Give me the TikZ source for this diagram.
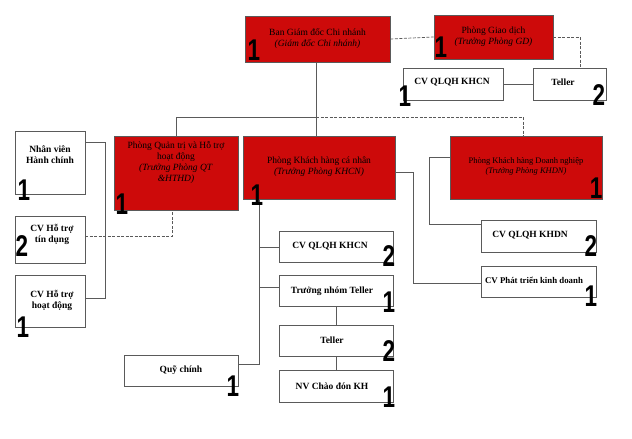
\documentclass[tikz,border=0pt]{standalone}
\usepackage{fontspec}
\setmainfont{Liberation Serif}
\newfontfamily\numfont{Liberation Sans}
\definecolor{boxred}{RGB}{205,10,10}
\definecolor{lin}{RGB}{90,90,90}
\begin{document}
\begin{tikzpicture}[x=1pt,y=-1pt,
 box/.style={draw=lin,line width=0.7pt,fill=white,inner sep=1pt,align=center,font=\fontsize{9.5}{11}\selectfont\bfseries},
 red/.style={box,fill=boxred,font=\fontsize{9.5}{11}\selectfont},
 num/.style={inner sep=0pt,font=\numfont\bfseries\fontsize{30}{30}\selectfont,xscale=0.75},
 ln/.style={draw=lin,line width=0.7pt},
 dl/.style={draw=lin,line width=0.7pt,dash pattern=on 3pt off 1.5pt}]
\useasboundingbox (0,0) rectangle (632,439);
\newcommand\bx[6]{\node[#1,minimum width=#4-#2,minimum height=#5-#3] (#6) at ({(#2+#4)/2},{(#3+#5)/2}) {};}
% red boxes
\bx{red}{245}{16}{390}{62}{bgd}
\node[font=\fontsize{9.5}{11}\selectfont,align=center] at (bgd) {Ban Giám đốc Chi nhánh\\\textit{(Giám đốc Chi nhánh)}};
\bx{red}{434}{15}{553}{59}{pgd}
\node[font=\fontsize{9.5}{11}\selectfont,align=center] at (pgd) {Phòng Giao dịch\\\textit{(Trưởng Phòng GD)}};
\bx{red}{114}{136}{238}{210}{pqt}
\node[font=\fontsize{9.5}{11}\selectfont,align=center] at (176,162) {Phòng Quản trị và Hỗ trợ\\hoạt động\\\textit{(Trưởng Phòng QT}\\\textit{\&HTHD)}};
\bx{red}{243}{136}{395}{199}{pkhcn}
\node[font=\fontsize{9.5}{11}\selectfont,align=center] at (319,167) {Phòng Khách hàng cá nhân\\\textit{(Trưởng Phòng KHCN)}};
\bx{red}{450}{136}{602}{199}{pkhdn}
\node[font=\fontsize{8.5}{10}\selectfont,align=center] at (526,166) {Phòng Khách hàng Doanh nghiệp\\\textit{(Trưởng Phòng KHDN)}};
% white boxes
\bx{box}{403}{68}{503}{100}{cvt}\node[font=\fontsize{9.5}{11}\selectfont\bfseries] at (452,82) {CV QLQH KHCN};
\bx{box}{533}{68}{606}{100}{tlt}\node[font=\fontsize{9.5}{11}\selectfont\bfseries] at (563,82) {Teller};
\bx{box}{15}{131}{85}{194}{nvhc}\node[font=\fontsize{9.5}{11}\selectfont\bfseries,align=center] at (50,155) {Nhân viên\\Hành chính};
\bx{box}{15}{216}{85}{263}{cvtd}\node[font=\fontsize{9.5}{11}\selectfont\bfseries,align=center] at (52,234) {CV Hỗ trợ\\tín dụng};
\bx{box}{15}{275}{85}{327}{cvhd}\node[font=\fontsize{9.5}{11}\selectfont\bfseries,align=center] at (52,300) {CV Hỗ trợ\\hoạt động};
\bx{box}{279}{231}{393}{262}{cvk}\node[font=\fontsize{9.5}{11}\selectfont\bfseries] at (330,246) {CV QLQH KHCN};
\bx{box}{279}{275}{393}{306}{tnt}\node[font=\fontsize{9.5}{11}\selectfont\bfseries] at (332,291) {Trưởng nhóm\ Teller};
\bx{box}{279}{325}{393}{356}{tl}\node[font=\fontsize{9.5}{11}\selectfont\bfseries] at (332,340) {Teller};
\bx{box}{279}{370}{393}{402}{nvc}\node[font=\fontsize{9.5}{11}\selectfont\bfseries] at (332,386) {NV Chào đón KH};
\bx{box}{124}{355}{238}{386}{qc}\node[font=\fontsize{9.5}{11}\selectfont\bfseries] at (181,370) {Quỹ chính};
\bx{box}{481}{220}{596}{252}{cvd}\node[font=\fontsize{9.5}{11}\selectfont\bfseries] at (530,235) {CV QLQH KHDN};
\bx{box}{481}{266}{596}{297}{cvp}\node[font=\fontsize{8.8}{10}\selectfont\bfseries] at (534,280) {CV Phát triển kinh doanh};
% connectors
\draw[ln] (316,62) -- (316,136);
\draw[ln] (176,136) -- (176,117) -- (316,117);
\draw[dl] (316,117) -- (523,117) -- (523,136);
\draw[dl] (bgd.east) -- (pgd.west);
\draw[dl] (553,37) -- (580,37) -- (580,68);
\draw[ln] (cvt.east) -- (tlt.west);
\draw[ln] (85,142) -- (105,142) -- (105,298) -- (85,298);
\draw[dl] (85,236) -- (172,236) -- (172,210);
\draw[ln] (259,199) -- (259,364) -- (238,364);
\draw[ln] (259,247) -- (279,247);
\draw[ln] (259,287) -- (279,287);
\draw[ln] (336,306) -- (336,325);
\draw[ln] (336,356) -- (336,370);
\draw[ln] (395,172) -- (413,172) -- (413,283) -- (481,283);
\draw[ln] (450,157) -- (429,157) -- (429,224) -- (481,224);
% numbers
\foreach \x/\y/\n/\nm in {254/50/1/n1,441/47/1/n2,405/96/1/n3,599/95/2/n4,24/190/1/n5,22/246/2/n6,23/327/1/n7,122/204/1/n8,257/195/1/n9,596/188/1/n10,389/256/2/n11,389/302/1/n12,389/351/2/n13,389/397/1/n14,233/386/1/n15,591/246/2/n16,591/296/1/n17}
  \node[num] (\nm) at (\x,\y) {\n};
\end{tikzpicture}
\end{document}
